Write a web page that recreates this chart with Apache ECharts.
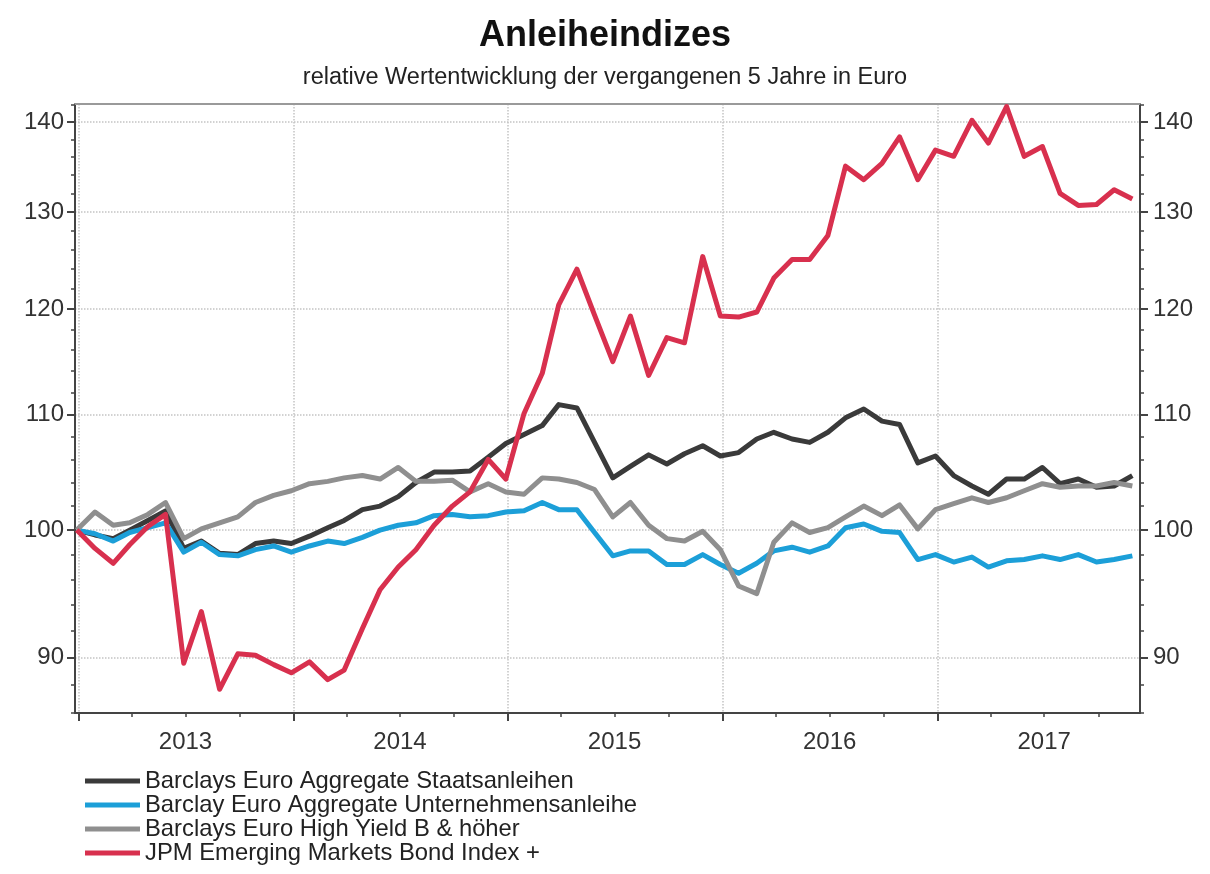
<!DOCTYPE html>
<html>
<head>
<meta charset="utf-8">
<script src="https://cdn.jsdelivr.net/npm/echarts@6/dist/echarts.min.js"></script>
<style>
  html, body { margin: 0; padding: 0; background: #fff; }
  #chart { width: 1210px; height: 874px; }
</style>
</head>
<body>
<div id="chart"></div>
<script>
// Monthly observation dates (end of month, 60 values)
const dates = [
  '2012-12-28',
  '2013-01-28','2013-02-28','2013-03-28','2013-04-28','2013-05-28','2013-06-28',
  '2013-07-28','2013-08-28','2013-09-28','2013-10-28','2013-11-28','2013-12-28',
  '2014-01-28','2014-02-28','2014-03-28','2014-04-28','2014-05-28','2014-06-28',
  '2014-07-28','2014-08-28','2014-09-28','2014-10-28','2014-11-28','2014-12-28',
  '2015-01-28','2015-02-28','2015-03-28','2015-04-28','2015-05-28','2015-06-28',
  '2015-07-28','2015-08-28','2015-09-28','2015-10-28','2015-11-28','2015-12-28',
  '2016-01-28','2016-02-28','2016-03-28','2016-04-28','2016-05-28','2016-06-28',
  '2016-07-28','2016-08-28','2016-09-28','2016-10-28','2016-11-28','2016-12-28',
  '2017-01-28','2017-02-28','2017-03-28','2017-04-28','2017-05-28','2017-06-28',
  '2017-07-28','2017-08-28','2017-09-28','2017-10-28','2017-11-28'
];

// Index values (start = 100)
const staatsanleihen = [
  100.0, 99.6, 99.3, 100.0, 100.8, 101.6, 98.5, 99.1, 98.1, 98.0,
  98.9, 99.1, 98.9, 99.5, 100.2, 100.8, 101.7, 102.0, 102.8, 104.0,
  104.9, 104.9, 105.0, 106.2, 107.4, 108.2, 109.0, 110.9, 110.6, 107.5,
  104.4, 105.4, 106.4, 105.6, 106.5, 107.2, 106.3, 106.6, 107.8, 108.4,
  107.8, 107.5, 108.4, 109.7, 110.5, 109.4, 109.1, 105.7, 106.3, 104.6,
  103.7, 103.0, 104.3, 104.3, 105.3, 103.9, 104.3, 103.6, 103.7, 104.6
];
const unternehmensanleihe = [
  100.0, 99.7, 99.1, 99.8, 100.2, 100.6, 98.2, 99.0, 98.0, 97.9,
  98.4, 98.7, 98.2, 98.7, 99.1, 98.9, 99.4, 100.0, 100.4, 100.6,
  101.2, 101.3, 101.1, 101.2, 101.5, 101.6, 102.3, 101.7, 101.7, 99.8,
  97.9, 98.3, 98.3, 97.2, 97.2, 98.0, 97.2, 96.5, 97.3, 98.3,
  98.6, 98.2, 98.7, 100.2, 100.5, 99.9, 99.8, 97.6, 98.0, 97.4,
  97.8, 97.0, 97.5, 97.6, 97.9, 97.6, 98.0, 97.4, 97.6, 97.9
];
const highYield = [
  100.0, 101.5, 100.4, 100.6, 101.3, 102.3, 99.3, 100.1, 100.6, 101.1,
  102.3, 102.9, 103.3, 103.9, 104.1, 104.4, 104.6, 104.3, 105.3, 104.1,
  104.1, 104.2, 103.2, 103.9, 103.2, 103.0, 104.4, 104.3, 104.0, 103.4,
  101.1, 102.3, 100.4, 99.3, 99.1, 99.9, 98.4, 95.5, 94.9, 99.0,
  100.6, 99.8, 100.2, 101.1, 102.0, 101.2, 102.1, 100.1, 101.7, 102.2,
  102.7, 102.3, 102.7, 103.3, 103.9, 103.6, 103.7, 103.7, 104.0, 103.7
];
const emergingMarkets = [
  100.0, 98.5, 97.3, 98.8, 100.3, 101.3, 89.6, 93.5, 87.7, 90.3,
  90.2, 89.5, 88.9, 89.7, 88.4, 89.1, 92.2, 95.2, 97.0, 98.4,
  100.4, 102.0, 103.2, 106.0, 104.3, 110.1, 113.8, 120.4, 124.0, 119.4,
  114.9, 119.3, 113.6, 117.2, 116.7, 125.3, 119.3, 119.2, 119.7, 123.1,
  125.0, 125.0, 127.5, 135.0, 133.5, 135.3, 138.3, 133.5, 136.8, 136.1,
  140.2, 137.6, 141.8, 136.1, 137.2, 132.0, 130.7, 130.8, 132.4, 131.4
];

const seriesNames = [
  'Barclays Euro Aggregate Staatsanleihen',
  'Barclay Euro Aggregate Unternehmensanleihe',
  'Barclays Euro High Yield B & höher',
  'JPM Emerging Markets Bond Index +'
];
const seriesColors = ['#3a3a3a', '#1c9fd8', '#8f8f8f', '#d8304e'];

// Axis ticks and labels
const yTickValues = [90, 100, 110, 120, 130, 140];
const yMinorValues = [86, 88, 92, 94, 96, 98, 102, 104, 106, 108, 112, 114, 116, 118,
                      122, 124, 126, 128, 132, 134, 136, 138, 142];
const years = ['2013', '2014', '2015', '2016', '2017'];

// Dates on the x axis are handled as millisecond timestamps on a value scale
const ts = s => Date.parse(s);
const yearStarts = years.map(y => ts(y + '-01-01'));
const yearMiddles = years.map(y => ts(y + '-07-01'));
const quarterStarts = [];
years.forEach(y => ['-04-01', '-07-01', '-10-01'].forEach(m => quarterStarts.push(ts(y + m))));

const FONT = '"Liberation Sans", Arial, sans-serif';
const X_MIN = ts('2012-12-25');
const X_MAX = ts('2017-12-11');
const Y_MIN = 86;
const Y_MAX = 142.1;
const AXIS_COLOR = '#444';

function yAxisBase(position) {
  return {
    type: 'log',
    logBase: 10,
    min: Y_MIN,
    max: Y_MAX,
    position: position,
    axisLine: { show: true, lineStyle: { color: AXIS_COLOR, width: 2 } },
    axisTick: { show: true, inside: false, length: 8, customValues: yTickValues,
                lineStyle: { color: AXIS_COLOR, width: 2 } },
    axisLabel: { show: true, customValues: yTickValues, fontSize: 24, color: '#333',
                 fontFamily: FONT, margin: position === 'left' ? 11 : 13,
                 formatter: v => String(Math.round(v)) },
    splitLine: { show: false },
    minorTick: { show: false },
    minorSplitLine: { show: false }
  };
}
function yAxisMinor(position) {
  return {
    type: 'log',
    logBase: 10,
    min: Y_MIN,
    max: Y_MAX,
    position: position,
    axisLine: { show: false },
    axisTick: { show: true, inside: false, length: 4, customValues: yMinorValues,
                lineStyle: { color: AXIS_COLOR, width: 1.5 } },
    axisLabel: { show: false },
    splitLine: { show: false }
  };
}

const leftMajor = yAxisBase('left');
leftMajor.splitLine = { show: true, lineStyle: { color: '#c4c4c4', type: 'dotted', width: 1.5 } };

function xAxisBase() {
  return {
    type: 'value',
    min: X_MIN,
    max: X_MAX,
    position: 'bottom',
    axisLine: { show: false },
    axisTick: { show: false },
    axisLabel: { show: false },
    splitLine: { show: false }
  };
}
const xYears = xAxisBase();
xYears.axisLine = { show: true, lineStyle: { color: AXIS_COLOR, width: 2 } };
xYears.axisTick = { show: true, length: 8, customValues: yearStarts,
                    lineStyle: { color: AXIS_COLOR, width: 2 } };
xYears.axisLabel = {
  show: true, customValues: yearMiddles, fontSize: 24, color: '#333',
  fontFamily: FONT, margin: 17,
  formatter: v => years[yearMiddles.indexOf(v)] || String(new Date(v).getUTCFullYear())
};
xYears.splitLine = { show: true, lineStyle: { color: '#c4c4c4', type: 'dotted', width: 1.5 } };

const xQuarters = xAxisBase();
xQuarters.axisTick = { show: true, length: 4, customValues: quarterStarts,
                       lineStyle: { color: AXIS_COLOR, width: 1.5 } };

const xTop = xAxisBase();
xTop.position = 'top';
xTop.axisLine = { show: true, lineStyle: { color: '#9a9a9a', width: 2 } };

const seriesData = [staatsanleihen, unternehmensanleihe, highYield, emergingMarkets];

const chart = echarts.init(document.getElementById('chart'), null, { renderer: 'canvas' });
chart.setOption({
  animation: false,
  backgroundColor: '#ffffff',
  title: [
    {
      text: 'Anleiheindizes',
      left: 'center',
      top: 13,
      textStyle: { fontSize: 36, fontWeight: 'bold', color: '#111', fontFamily: FONT }
    },
    {
      text: 'relative Wertentwicklung der vergangenen 5 Jahre in Euro',
      left: 'center',
      top: 61,
      textStyle: { fontSize: 23.5, fontWeight: 'normal', color: '#222', fontFamily: FONT }
    }
  ],
  legend: {
    orient: 'vertical',
    left: 80,
    top: 764,
    itemWidth: 55,
    itemHeight: 5,
    itemGap: 0,
    icon: 'rect',
    selectedMode: false,
    textStyle: { fontSize: 23.8, color: '#222', fontFamily: FONT, lineHeight: 24 },
    data: seriesNames
  },
  grid: { left: 75, right: 70, top: 104, bottom: 161, containLabel: false },
  xAxis: [xYears, xQuarters, xTop],
  yAxis: [leftMajor, yAxisBase('right'), yAxisMinor('left'), yAxisMinor('right')],
  series: seriesNames.map((name, i) => ({
    name: name,
    type: 'line',
    xAxisIndex: 0,
    yAxisIndex: 0,
    symbol: 'none',
    smooth: false,
    color: seriesColors[i],
    lineStyle: { color: seriesColors[i], width: 5, join: 'round' },
    data: dates.map((d, k) => [ts(d), seriesData[i][k]])
  }))
});
</script>
</body>
</html>
